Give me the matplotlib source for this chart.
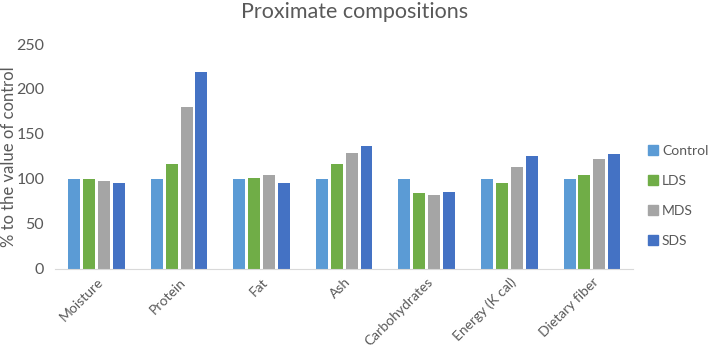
import numpy as np
from matplotlib import pyplot as plt
from matplotlib.patches import Patch

plt.rcParams['font.family'] = ['Lato', 'DejaVu Sans']

categories = ['Moisture', 'Protein', 'Fat', 'Ash', 'Carbohydrates', 'Energy (K cal)', 'Dietary fiber']
series_names = ['Control', 'LDS', 'MDS', 'SDS']
control = [100, 100, 100, 100, 100, 100, 100]
lds = [100, 117, 101, 117, 84, 95, 104]
mds = [98, 180, 104, 129, 82, 113, 122]
sds = [96, 219, 95, 137, 86, 126, 128]
colors = ['#5B9BD5', '#70AD47', '#A5A5A5', '#4472C4']

text_col = '#595959'

fig = plt.figure(figsize=(7.09, 3.52), dpi=100)
ax = fig.add_axes([0.078, 0.236, 0.815, 0.639])

x = np.arange(len(categories))
width = 0.145
step = 0.18
for i, vals in enumerate([control, lds, mds, sds]):
    ax.bar(x + (i - 1.5) * step, vals, width, color=colors[i], label=series_names[i])

ax.set_xlim(-0.5, len(categories) - 0.5)
ax.set_ylim(0, 250)
ax.set_yticks([0, 50, 100, 150, 200, 250])
ax.set_xticks(x)
ax.set_xticklabels(categories, rotation=45, ha='right', rotation_mode='anchor')
ax.tick_params(axis='both', length=0, colors=text_col)
ax.tick_params(axis='x', pad=5, labelsize=10)
ax.tick_params(axis='y', pad=8, labelsize=11.5)
for s in ['top', 'right', 'left']:
    ax.spines[s].set_visible(False)
ax.spines['bottom'].set_color('#D9D9D9')

ax.set_ylabel('% to the value of control', color=text_col, fontsize=12)
ax.yaxis.set_label_coords(-0.066, 0.5)
fig.suptitle('Proximate compositions', color=text_col, fontsize=15.5, y=0.993)

handles = [Patch(color=c) for c in colors]
fig.legend(handles, series_names, loc='center left', bbox_to_anchor=(0.914, 0.443),
           frameon=False, handlelength=0.7, handleheight=0.7, handletextpad=0.3,
           labelspacing=1.3, fontsize=10, labelcolor=text_col, borderpad=0, borderaxespad=0)

fig.savefig('out.png', dpi=100)
